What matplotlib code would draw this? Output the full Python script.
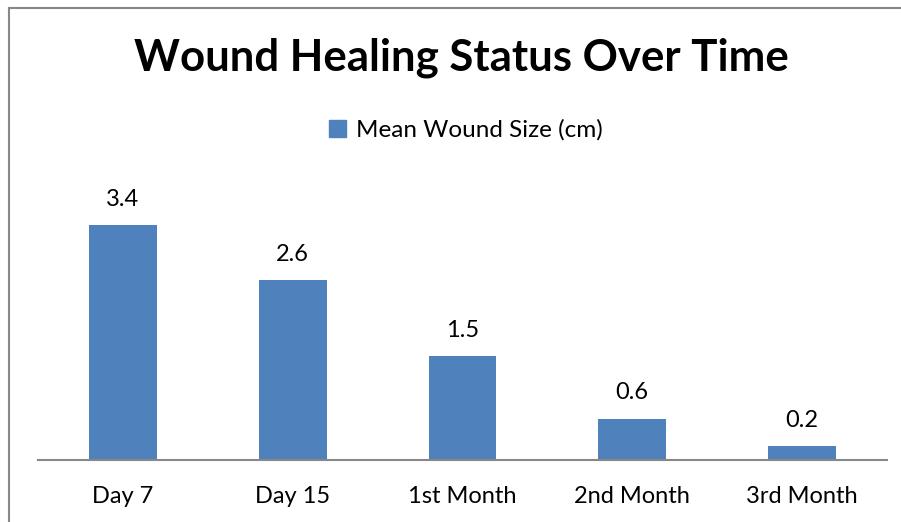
import matplotlib
matplotlib.use('Agg')
import matplotlib.pyplot as plt
from matplotlib.lines import Line2D
from matplotlib.patches import Patch

categories = ['Day 7', 'Day 15', '1st Month', '2nd Month', '3rd Month']
wound_size = [3.4, 2.6, 1.5, 0.6, 0.2]
series_name = 'Mean Wound Size (cm)'

BAR_COLOR = '#4F81BD'
plt.rcParams['font.family'] = ['Lato', 'DejaVu Sans']

W, H = 901, 522
fig = plt.figure(figsize=(W / 100, H / 100), dpi=100)

# axes placed in pixel coords: x 38..887, y baseline at 460
left, right = 38, 887
bottom, top = 460, 460 - 4 * 69.1
ax = fig.add_axes([left / W, 1 - bottom / H, (right - left) / W, (bottom - top) / H])

x = range(len(categories))
bars = ax.bar(x, wound_size, width=0.4, color=BAR_COLOR)
ax.set_xlim(-0.5, len(categories) - 0.5)
ax.set_ylim(0, 4)

for b, v in zip(bars, wound_size):
    ax.annotate(f'{v}', (b.get_x() + b.get_width() / 2, v), xytext=(0, 11),
                textcoords='offset points', ha='center', va='bottom', fontsize=17)

ax.set_xticks(list(x))
ax.set_xticklabels(categories, fontsize=17)
ax.tick_params(axis='x', length=0, pad=19)
ax.set_yticks([])
for s in ['left', 'right', 'top']:
    ax.spines[s].set_visible(False)
ax.spines['bottom'].set_color('#888888')
ax.spines['bottom'].set_linewidth(1.5)

fig.text(461 / W, 1 - 58 / H, 'Wound Healing Status Over Time', ha='center', va='center',
         fontsize=31.5, fontweight='bold')

fig.legend(handles=[Patch(color=BAR_COLOR, label=series_name)], loc='center',
           bbox_to_anchor=(466 / W, 1 - 130 / H), frameon=False, fontsize=17.5,
           handlelength=0.7, handleheight=0.7, handletextpad=0.4)

# outer chart border (left and top edges visible)
fig.add_artist(Line2D([8.5 / W, 8.5 / W], [0, 1 - 7.5 / H], color='#888888', lw=1.5))
fig.add_artist(Line2D([8.5 / W, 1], [1 - 7.5 / H, 1 - 7.5 / H], color='#888888', lw=1.5))

fig.savefig('out.png', dpi=100)
